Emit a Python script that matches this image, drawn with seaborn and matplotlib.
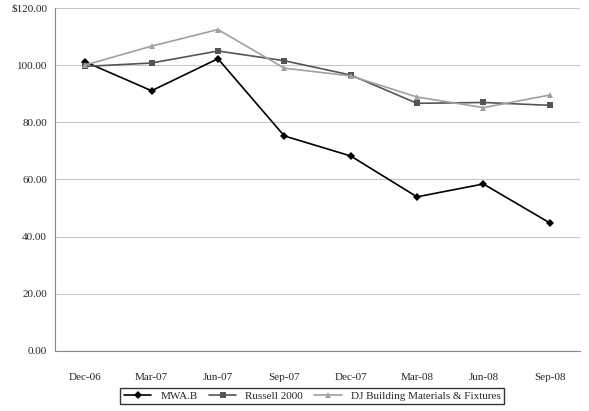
import matplotlib
matplotlib.use("Agg")
import matplotlib.pyplot as plt
import seaborn as sns
import pandas as pd

dates = ["Dec-06","Mar-07","Jun-07","Sep-07","Dec-07","Mar-08","Jun-08","Sep-08"]
mwa = [101.1, 91.0, 102.2, 75.2, 68.2, 53.9, 58.4, 44.8]
russell = [99.5, 100.7, 104.9, 101.5, 96.5, 86.6, 86.9, 85.9]
dj = [100.0, 106.6, 112.4, 98.9, 96.2, 88.8, 85.1, 89.5]
series = ["MWA.B", "Russell 2000", "DJ Building Materials & Fixtures"]

sns.set_style("white")
plt.rcParams['font.family'] = ['Liberation Serif', 'DejaVu Serif']

rows = []
for name, vals in zip(series, [mwa, russell, dj]):
    for i, (d, v) in enumerate(zip(dates, vals)):
        rows.append({"x": i, "date": d, "value": v, "series": name})
df = pd.DataFrame(rows)

fig = plt.figure(figsize=(5.89, 4.11), dpi=100)
ax = fig.add_axes([0.094, 0.146, 0.89, 0.835])
pal = {"MWA.B": "#000000", "Russell 2000": "#555555", "DJ Building Materials & Fixtures": "#a0a0a0"}
marks = {"MWA.B": "D", "Russell 2000": "s", "DJ Building Materials & Fixtures": "^"}
sns.lineplot(data=df, x="x", y="value", hue="series", style="series", palette=pal,
             markers=marks, dashes=False, markersize=4.5, linewidth=1.2,
             markeredgewidth=0, ax=ax, hue_order=series, style_order=series)
ax.set_xlim(-0.45, 7.45)
ax.set_ylim(0, 120)
ax.set_yticks(range(0, 121, 20))
ax.set_yticklabels(["0.00","20.00","40.00","60.00","80.00","100.00","$120.00"])
ax.set_xticks(range(len(dates)))
ax.set_xticklabels(dates)
ax.tick_params(labelsize=8, length=0, pad=6)
ax.tick_params(axis="x", pad=16)
ax.grid(axis="y", color="#c8c8c8", linewidth=0.8)
ax.set_xlabel(""); ax.set_ylabel("")
for s in ["top", "right"]:
    ax.spines[s].set_visible(False)
ax.spines["left"].set_color("#888888")
ax.spines["bottom"].set_color("#888888")
ax.legend(loc="lower center", bbox_to_anchor=(0.53, 0.003), bbox_transform=fig.transFigure,
          ncol=3, fontsize=8, frameon=True, fancybox=False, edgecolor="black",
          handlelength=2.5, borderpad=0.3, columnspacing=1.0)
fig.savefig("out.png", dpi=100)
